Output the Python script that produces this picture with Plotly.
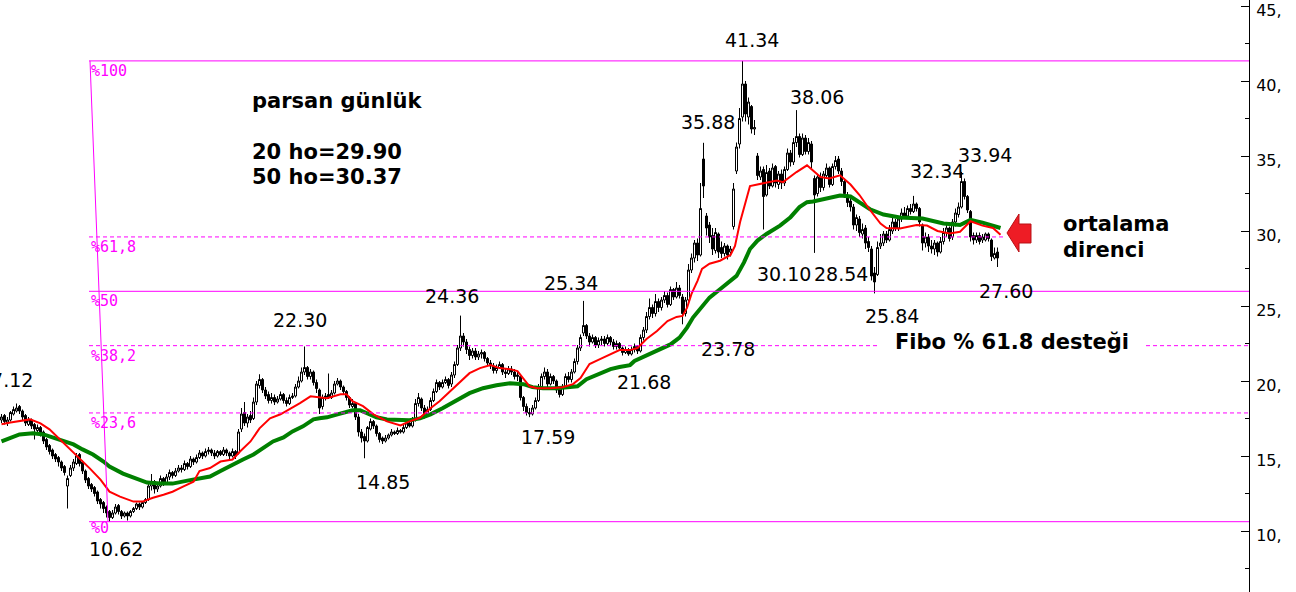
import plotly.graph_objects as go

# ---------------- data ----------------
opens = [
    17.4, 17.7, 17.2, 17.4, 17.8, 18.0, 18.3, 18.0, 17.7, 17.1,
    17.4, 17.1, 16.7, 16.9, 16.6, 16.1, 15.7, 15.4, 15.1, 14.9,
    14.6, 14.3, 13.0, 13.7, 14.2, 14.5, 15.1, 14.6, 14.0, 13.5,
    13.1, 12.9, 12.6, 12.1, 11.9, 11.6, 11.3, 10.9, 11.2, 11.7,
    11.3, 11.0, 11.2, 11.0, 11.3, 11.5, 11.8, 11.6, 11.9, 12.1,
    13.0, 13.3, 12.8, 13.0, 13.5, 13.2, 13.6, 13.9, 13.7, 14.0,
    14.2, 14.1, 14.5, 14.3, 14.8, 14.6, 14.9, 15.2, 15.0, 15.3,
    15.4, 15.2, 15.0, 15.3, 15.1, 15.4, 15.2, 15.0, 15.3, 15.2,
    16.8, 17.9, 17.2, 17.7, 17.5, 18.6, 19.7, 20.1, 19.4, 19.1,
    18.7, 18.9, 18.6, 18.8, 19.1, 18.7, 18.5, 18.9, 19.0, 19.6,
    20.0, 20.6, 20.9, 20.3, 20.6, 19.9, 19.4, 18.3, 18.9, 19.1,
    18.9, 19.2, 19.8, 20.0, 19.6, 19.3, 18.9, 18.3, 18.5, 17.6,
    16.6, 16.3, 16.0, 16.8, 17.3, 17.0, 16.5, 16.2, 16.0, 16.2,
    16.4, 16.6, 16.5, 16.7, 16.6, 16.9, 17.2, 17.0, 17.4, 18.5,
    18.8, 18.2, 17.8, 18.1, 18.7, 19.3, 19.9, 19.6, 19.9, 20.1,
    19.8, 20.4, 21.1, 22.2, 23.0, 22.6, 22.1, 21.7, 22.0, 21.6,
    21.8, 21.9, 21.5, 21.2, 21.0, 20.7, 20.9, 21.1, 20.6, 20.5,
    20.8, 20.6, 20.3, 20.3, 18.9, 18.3, 17.9, 17.8, 18.2, 18.7,
    19.6, 20.3, 20.6, 19.8, 20.3, 20.0, 19.4, 19.1, 19.6, 20.3,
    20.1, 20.6, 21.3, 22.2, 23.2, 23.7, 23.0, 22.6, 22.9, 22.4,
    22.7, 22.8, 22.5, 22.9, 22.6, 22.3, 22.5, 22.2, 21.9, 22.1,
    21.8, 22.1, 22.3, 22.0, 22.9, 23.4, 24.3, 24.9, 24.5, 25.3,
    24.9, 25.4, 25.7, 25.1, 26.1, 25.6, 26.2, 25.6, 24.5, 25.4,
    27.4, 28.2, 29.2, 28.4, 34.8, 31.0, 30.4, 29.7, 28.7, 29.8,
    28.9, 28.5, 29.0, 28.6, 30.3, 34.0, 35.8, 37.6, 39.8, 37.6,
    38.3, 36.8, 35.0, 33.6, 34.1, 32.4, 34.0, 33.0, 34.3, 33.1,
    33.8, 33.2, 34.1, 35.2, 34.6, 35.9, 36.3, 35.1, 36.2, 35.3,
    35.8, 33.5, 32.5, 33.6, 32.9, 33.7, 34.2, 33.1, 34.3, 34.8,
    34.0, 33.3, 32.4, 32.0, 31.6, 30.4, 30.8, 29.8, 30.2, 29.3,
    28.8, 27.2, 27.1, 29.0, 29.2, 29.8, 29.4, 30.0, 30.6, 30.2,
    30.8, 31.2, 31.0, 31.5, 31.3, 31.8, 31.5, 30.4, 29.2, 29.6,
    29.0, 28.8, 29.2, 28.6, 29.3, 29.9, 30.2, 29.6, 30.6, 31.1,
    31.6, 33.3, 32.3, 31.3, 29.7, 29.4, 29.7, 29.4, 29.4, 29.8,
    29.4, 28.2, 28.6,
]
highs = [
    17.8, 17.8, 17.6, 18.0, 18.3, 18.5, 18.4, 18.1, 17.8, 17.6,
    17.5, 17.2, 17.1, 17.0, 16.7, 16.2, 15.8, 15.5, 15.2, 15.0,
    14.7, 14.4, 13.7, 14.4, 14.8, 15.2, 15.2, 14.7, 14.1, 13.6,
    13.2, 13.0, 12.7, 12.2, 12.0, 11.7, 11.4, 11.4, 11.8, 11.8,
    11.4, 11.3, 11.3, 11.4, 11.6, 11.9, 11.9, 12.0, 12.2, 13.3,
    13.8, 13.4, 13.2, 13.7, 13.6, 13.8, 14.1, 14.0, 14.2, 14.4,
    14.4, 14.7, 14.6, 15.0, 14.9, 15.1, 15.4, 15.3, 15.5, 15.6,
    15.5, 15.4, 15.4, 15.4, 15.6, 15.5, 15.3, 15.5, 15.4, 16.8,
    18.2, 18.6, 17.8, 18.0, 18.9, 20.0, 20.45, 20.2, 19.6, 19.3,
    19.2, 19.1, 19.0, 19.3, 19.2, 18.9, 19.1, 19.2, 19.8, 20.3,
    20.9, 22.3, 21.0, 20.8, 20.7, 20.1, 19.5, 19.1, 19.2, 20.5,
    19.4, 20.0, 20.2, 20.1, 19.7, 19.4, 19.0, 18.8, 18.6, 17.8,
    16.8, 16.5, 17.0, 17.5, 17.4, 17.1, 16.6, 16.3, 16.4, 16.5,
    16.8, 16.7, 16.9, 16.8, 17.1, 17.3, 17.3, 17.6, 18.8, 19.2,
    18.9, 18.4, 18.3, 18.9, 19.5, 20.1, 20.0, 20.1, 20.3, 20.2,
    20.6, 21.3, 22.4, 24.36, 23.2, 22.8, 22.3, 22.2, 22.2, 22.0,
    22.1, 22.0, 21.6, 21.4, 21.2, 21.1, 21.3, 21.2, 20.8, 21.0,
    21.0, 20.8, 20.6, 20.4, 19.0, 18.5, 18.2, 18.4, 18.9, 19.8,
    20.5, 20.9, 20.8, 20.5, 20.4, 20.1, 19.6, 19.8, 20.5, 20.6,
    20.8, 21.5, 22.4, 23.1, 25.34, 23.8, 23.2, 23.1, 23.0, 22.9,
    23.0, 23.0, 23.1, 23.0, 22.8, 22.7, 22.6, 22.3, 22.3, 22.2,
    22.3, 22.5, 22.4, 23.1, 23.6, 24.6, 25.5, 25.1, 25.8, 25.5,
    25.6, 26.0, 25.9, 26.3, 26.2, 26.6, 26.4, 25.8, 25.6, 27.8,
    28.5, 29.4, 29.5, 33.2, 35.88, 31.2, 30.6, 30.2, 30.2, 29.9,
    29.3, 29.2, 29.1, 29.0, 33.2, 35.9, 38.2, 41.34, 40.0, 38.9,
    38.4, 37.4, 35.2, 34.3, 34.3, 34.4, 34.2, 34.5, 34.4, 34.0,
    34.1, 34.3, 35.5, 35.4, 36.2, 38.06, 36.5, 36.5, 36.4, 36.2,
    36.0, 33.7, 33.8, 33.9, 34.0, 34.5, 34.3, 34.5, 35.0, 35.0,
    34.2, 33.5, 32.6, 32.2, 31.8, 31.1, 31.0, 30.5, 30.4, 29.6,
    29.0, 27.6, 29.3, 29.8, 30.0, 30.0, 30.4, 30.9, 30.8, 31.0,
    31.5, 31.6, 31.7, 31.8, 32.34, 31.9, 31.6, 30.5, 29.9, 29.8,
    29.4, 29.4, 29.3, 29.6, 30.2, 30.4, 30.3, 30.8, 31.5, 31.9,
    33.94, 33.5, 32.4, 31.4, 29.9, 29.9, 29.9, 29.8, 29.9, 29.9,
    29.5, 28.9, 28.9,
]
lows = [
    17.2, 17.1, 17.0, 17.3, 17.7, 17.9, 17.8, 17.4, 17.0, 17.0,
    16.8, 16.1, 16.6, 16.3, 15.8, 15.4, 15.1, 14.8, 14.6, 14.3,
    14.0, 13.7, 11.5, 13.6, 14.0, 14.4, 14.3, 13.8, 13.2, 12.8,
    12.6, 12.3, 11.8, 11.5, 11.2, 10.9, 10.62, 10.8, 11.1, 11.1,
    10.8, 10.9, 10.7, 10.9, 11.2, 11.4, 11.4, 11.5, 11.8, 12.0,
    12.7, 12.5, 12.6, 12.9, 13.0, 13.1, 13.4, 13.5, 13.6, 13.9,
    13.9, 14.0, 14.1, 14.2, 14.4, 14.5, 14.8, 14.8, 14.9, 15.1,
    15.0, 14.8, 14.9, 15.0, 15.0, 15.0, 14.8, 14.9, 14.8, 15.1,
    16.6, 17.0, 16.9, 17.2, 17.4, 18.4, 19.5, 19.2, 18.8, 18.5,
    18.5, 18.4, 18.5, 18.7, 18.5, 18.3, 18.4, 18.8, 18.9, 19.5,
    19.9, 20.4, 20.1, 20.1, 19.7, 19.2, 17.8, 18.1, 18.7, 18.8,
    18.8, 19.1, 19.7, 19.4, 19.1, 18.7, 18.2, 18.2, 17.4, 16.3,
    15.9, 14.85, 15.9, 16.7, 16.8, 16.3, 15.9, 15.8, 15.9, 16.1,
    16.3, 16.4, 16.4, 16.5, 16.5, 16.8, 16.9, 16.9, 17.3, 18.3,
    18.0, 17.5, 17.7, 18.0, 18.6, 19.2, 19.4, 19.5, 19.8, 19.5,
    19.6, 20.2, 21.0, 22.0, 22.3, 21.8, 21.4, 21.5, 21.4, 21.4,
    21.5, 21.3, 21.0, 20.8, 20.5, 20.5, 20.8, 20.4, 20.2, 20.4,
    20.4, 20.1, 20.0, 18.7, 18.0, 17.7, 17.59, 17.7, 18.1, 18.6,
    19.4, 20.1, 19.6, 19.7, 19.8, 19.2, 18.9, 19.0, 19.5, 19.9,
    19.9, 20.5, 21.1, 22.0, 23.0, 22.8, 22.3, 22.5, 22.2, 22.2,
    22.4, 22.3, 22.4, 22.4, 22.1, 22.1, 22.0, 21.7, 21.8, 21.68,
    21.7, 21.9, 21.8, 21.9, 22.7, 23.2, 24.1, 24.2, 24.3, 24.6,
    24.7, 25.2, 24.9, 25.0, 25.4, 25.5, 25.5, 23.78, 24.3, 25.3,
    27.2, 27.9, 28.0, 28.3, 32.2, 29.7, 29.2, 28.4, 28.5, 28.2,
    28.2, 28.3, 28.1, 28.3, 30.1, 33.8, 35.5, 37.3, 37.3, 37.1,
    36.5, 36.4, 33.4, 33.4, 30.10, 32.3, 32.8, 32.9, 32.9, 32.8,
    32.8, 33.0, 34.0, 34.3, 34.4, 35.6, 34.9, 35.0, 35.1, 35.1,
    34.2, 28.54, 32.3, 32.6, 32.7, 33.6, 32.9, 33.0, 34.1, 33.8,
    33.0, 32.2, 31.6, 31.3, 30.1, 30.0, 29.6, 29.5, 28.8, 28.6,
    26.7, 25.84, 27.0, 28.8, 29.0, 29.2, 29.3, 29.8, 30.0, 30.0,
    30.6, 30.8, 30.8, 31.1, 31.2, 31.3, 30.3, 28.7, 28.9, 28.6,
    28.5, 28.4, 28.3, 28.5, 29.1, 29.6, 29.3, 29.4, 30.3, 30.9,
    31.5, 32.1, 31.2, 29.3, 29.1, 29.2, 29.1, 29.2, 29.3, 29.3,
    28.0, 28.1, 27.60,
]
closes = [
    17.6, 17.3, 17.4, 17.9, 18.1, 18.2, 18.0, 17.6, 17.2, 17.4,
    17.0, 16.8, 16.9, 16.5, 16.0, 15.6, 15.3, 15.0, 14.8, 14.6,
    14.2, 13.9, 13.5, 14.2, 14.6, 15.0, 14.5, 14.0, 13.4, 13.0,
    12.8, 12.5, 12.0, 11.8, 11.5, 11.2, 10.9, 11.2, 11.6, 11.3,
    11.0, 11.2, 11.0, 11.3, 11.5, 11.8, 11.6, 11.9, 12.1, 13.0,
    13.3, 12.8, 13.0, 13.5, 13.2, 13.6, 13.9, 13.7, 14.0, 14.2,
    14.1, 14.5, 14.3, 14.8, 14.6, 14.9, 15.2, 15.0, 15.3, 15.4,
    15.2, 15.0, 15.3, 15.1, 15.4, 15.2, 15.0, 15.3, 15.0, 16.6,
    17.8, 17.2, 17.6, 17.4, 18.6, 19.8, 20.1, 19.4, 19.0, 18.7,
    18.9, 18.6, 18.8, 19.1, 18.7, 18.5, 18.9, 19.0, 19.6, 20.0,
    20.6, 20.9, 20.3, 20.6, 19.9, 19.5, 18.2, 18.9, 19.0, 18.9,
    19.2, 19.8, 20.0, 19.6, 19.3, 18.9, 18.4, 18.5, 17.6, 16.6,
    16.2, 16.0, 16.9, 17.3, 17.0, 16.5, 16.1, 16.0, 16.2, 16.4,
    16.6, 16.5, 16.7, 16.6, 16.9, 17.2, 17.0, 17.4, 18.5, 18.9,
    18.2, 17.8, 18.1, 18.7, 19.3, 19.9, 19.6, 19.9, 20.1, 19.7,
    20.4, 21.1, 22.2, 23.0, 22.6, 22.1, 21.7, 22.0, 21.6, 21.8,
    21.9, 21.5, 21.2, 21.0, 20.7, 20.9, 21.1, 20.6, 20.5, 20.8,
    20.6, 20.3, 20.4, 18.9, 18.3, 17.9, 17.8, 18.2, 18.7, 19.6,
    20.3, 20.6, 19.8, 20.3, 20.0, 19.4, 19.1, 19.6, 20.3, 20.1,
    20.6, 21.3, 22.2, 22.9, 23.7, 23.0, 22.6, 22.9, 22.4, 22.7,
    22.8, 22.5, 22.9, 22.6, 22.3, 22.5, 22.2, 21.9, 22.1, 21.8,
    22.1, 22.3, 22.0, 22.9, 23.4, 24.3, 24.9, 24.5, 25.3, 24.9,
    25.4, 25.7, 25.1, 26.1, 25.6, 26.2, 25.7, 24.5, 25.4, 27.4,
    28.2, 29.2, 28.4, 31.5, 33.0, 30.2, 29.6, 28.8, 29.9, 28.6,
    28.5, 29.0, 28.4, 28.8, 32.8, 35.6, 37.5, 39.8, 37.8, 38.6,
    36.8, 36.9, 33.7, 34.0, 32.3, 33.9, 33.0, 34.2, 33.2, 33.8,
    33.2, 34.1, 35.2, 34.6, 35.9, 36.3, 35.1, 36.2, 35.3, 35.9,
    34.6, 32.4, 33.6, 32.9, 33.8, 34.2, 33.1, 34.3, 34.7, 34.0,
    33.3, 32.5, 31.9, 31.6, 30.4, 30.9, 29.9, 30.1, 29.2, 28.9,
    27.0, 26.6, 28.9, 29.2, 29.8, 29.4, 30.1, 30.6, 30.2, 30.8,
    31.2, 31.0, 31.5, 31.3, 31.8, 31.5, 30.6, 29.2, 29.6, 29.0,
    28.8, 29.2, 28.6, 29.3, 29.9, 30.2, 29.5, 30.6, 31.2, 31.6,
    33.3, 32.3, 31.4, 29.6, 29.4, 29.7, 29.3, 29.6, 29.8, 29.5,
    28.3, 28.5, 28.2,
]
bar_index = list(range(len(closes)))

# 20-period moving average (red), read at bar positions
ma20_idx = [0, 3, 9.5, 13, 16, 19.5, 23, 26, 29.5, 33, 36, 39.5, 44, 47, 50.5, 54, 57,
            60.5, 64, 66, 69.5, 73, 77, 79.5, 83, 86, 89.5, 93, 96, 99.5, 103, 106,
            108.5, 113, 115, 117, 120.5, 124, 128.5, 133, 136, 139.5, 143, 146, 149.5,
            153, 156, 159.5, 163, 166, 169.5, 172, 174, 176, 178.5, 183, 187, 190.5,
            193, 196, 199.5, 203, 206, 209.5, 212, 215, 218.5, 222, 225, 227, 228.5,
            230, 232, 233.5, 236, 239.5, 243, 244.5, 246.2, 249.5, 253, 258.5, 260.5,
            265, 268.5, 270.5, 273, 276, 279.5, 283, 286, 289.5, 293, 295, 299.5, 305,
            308.5, 312, 316, 319.5, 323, 327, 330.5, 333]
ma20_val = [17.11, 17.24, 17.44, 17.18, 16.78, 16.11, 15.44, 14.83, 14.16, 13.43, 12.62,
            12.29, 11.96, 11.96, 12.22, 12.42, 12.62, 12.96, 13.29, 14.0, 14.2, 14.63,
            14.77, 15.30, 15.97, 16.84, 17.51, 17.78, 18.11, 18.52, 18.98, 18.92, 18.85,
            19.12, 19.12, 18.65, 18.32, 17.78, 17.31, 17.04, 17.31, 17.55, 18.18, 18.65,
            19.32, 19.99, 20.52, 20.86, 21.06, 20.86, 20.79, 20.66, 20.19, 19.65, 19.52,
            19.52, 19.59, 19.79, 20.19, 21.13, 21.46, 21.80, 22.06, 22.06, 22.20, 22.80,
            23.33, 24.00, 24.27, 24.34, 24.87, 25.81, 26.68, 27.48, 27.82, 28.02, 28.4,
            29.0, 30.6, 33.0, 33.15, 33.37, 33.26, 33.93, 34.38, 34.04, 33.6, 33.5, 33.71,
            33.1, 32.4, 31.4, 30.5, 30.2, 30.16, 30.4, 30.36, 30.0, 29.83, 29.95, 30.65,
            30.36, 30.2, 29.75]

# 50-period moving average (green)
ma50_idx = [0, 3, 6, 10.5, 14, 17, 20.5, 24, 27, 30.5, 34, 36, 40.5, 45, 48.5, 53, 57,
            62, 66, 69.5, 73, 77, 80.5, 84, 87, 90.5, 94, 97, 100.5, 104, 106, 108.5,
            112, 115, 117, 119.5, 122, 125, 128.5, 133, 136, 139.5, 143, 147, 152, 156,
            160.5, 165, 169.5, 172, 174, 177, 180.5, 185, 189.5, 192, 195, 198.5, 203,
            206, 209.5, 211, 219.5, 223, 226, 228.5, 230.5, 233.5, 236, 239.5, 243, 245,
            247.5, 249.5, 252, 255, 259.5, 263, 266, 268.5, 270.5, 275, 279.5, 283, 286,
            289.5, 294, 299.5, 307, 314, 319.5, 323, 327, 333]
ma50_val = [15.97, 16.17, 16.44, 16.51, 16.44, 16.24, 15.97, 15.77, 15.44, 15.10, 14.63,
            14.30, 13.83, 13.50, 13.23, 13.16, 13.16, 13.36, 13.50, 13.63, 14.0, 14.43,
            14.77, 15.10, 15.50, 15.97, 16.24, 16.64, 16.98, 17.44, 17.51, 17.58, 17.78,
            17.98, 18.05, 18.05, 17.85, 17.58, 17.44, 17.38, 17.38, 17.51, 17.78, 18.18,
            18.78, 19.19, 19.52, 19.72, 19.85, 19.85, 19.79, 19.59, 19.52, 19.52, 19.59,
            19.65, 20.12, 20.39, 20.79, 20.93, 21.06, 21.33, 22.11, 22.44, 22.89, 23.56,
            24.23, 25.01, 25.56, 26.12, 26.68, 27.01, 27.91, 28.8, 29.36, 29.8, 30.36,
            30.92, 31.59, 31.92, 31.97, 32.15, 32.37, 32.3, 31.9, 31.45, 31.1, 30.9,
            30.83, 30.5, 30.4, 30.74, 30.56, 30.2]

fib_high = 41.34
fib_low = 10.62
fib_ratios = [1.0, 0.618, 0.5, 0.382, 0.236, 0.0]
fib_names = ["%100", "%61,8", "%50", "%38,2", "%23,6", "%0"]

y_ticks = [10, 15, 20, 25, 30, 35, 40, 45]

price_labels = ["17.12", "22.30", "24.36", "25.34", "35.88", "41.34", "38.06",
                "32.34", "33.94", "30.10", "28.54", "25.84", "27.60", "23.78",
                "21.68", "17.59", "14.85", "10.62"]

title_lines = ["parsan günlük", "20 ho=29.90", "50 ho=30.37"]
note_lines = ["ortalama", "direnci"]
fibo_note = "Fibo % 61.8 desteği"

# ---------------- layout helpers (pixel placement) ----------------
PLOT_W = 1249
H = 592


def xd(px):
    return px / 3.0 - 0.5


def yd(py):
    return 45.0 - (py - 6.0) / 15.0


def pp(px, py):
    return px / PLOT_W, 1 - py / H


MAG = "#FF00FF"
TXT_FONT = "DejaVu Sans, Verdana, sans-serif"

fig = go.Figure()

fig.add_trace(go.Candlestick(
    x=bar_index, open=opens, high=highs, low=lows, close=closes,
    increasing=dict(line=dict(color="black", width=1), fillcolor="white"),
    decreasing=dict(line=dict(color="black", width=1), fillcolor="black"),
    whiskerwidth=0, showlegend=False, hoverinfo="skip",
))
fig.add_trace(go.Scatter(
    x=ma50_idx, y=ma50_val, mode="lines",
    line=dict(color="#008000", width=4), showlegend=False, hoverinfo="skip",
))
fig.add_trace(go.Scatter(
    x=ma20_idx, y=ma20_val, mode="lines",
    line=dict(color="#FF0000", width=2), showlegend=False, hoverinfo="skip",
))

shapes = []
annotations = []

# Fibonacci levels
for r, name in zip(fib_ratios, fib_names):
    lvl = fib_low + r * (fib_high - fib_low)
    dashed = r in (0.618, 0.382, 0.236)
    x_end = xd(1005) if r == 0.618 else xd(PLOT_W)
    shapes.append(dict(
        type="line", xref="x", yref="y", x0=xd(89), x1=x_end, y0=lvl, y1=lvl,
        line=dict(color=MAG, width=1, dash="4px,3px" if dashed else "solid"),
        layer="above",
    ))
    annotations.append(dict(
        x=xd(89), y=lvl, xref="x", yref="y", text=name, showarrow=False,
        xanchor="left", yanchor="top", yshift=1 if r > 0 else 5,
        font=dict(family="DejaVu Sans Mono, monospace", size=15, color=MAG),
    ))

# fib anchor line (from the high to the low)
shapes.append(dict(
    type="line", xref="x", yref="y", x0=xd(90), y0=fib_high, x1=xd(108), y1=fib_low,
    line=dict(color=MAG, width=1), layer="above",
))

# red arrow
arrow_pts = [(1007, 233), (1019, 214), (1019, 224), (1031, 224), (1031, 243),
             (1019, 243), (1019, 252)]
path = "M " + " L ".join("%.5f,%.5f" % pp(a, b) for a, b in arrow_pts) + " Z"
shapes.append(dict(type="path", xref="paper", yref="paper", path=path,
                   fillcolor="#EE1C25", line=dict(color="#B81015", width=1)))

# price labels: (px x, px y, anchor)
label_pos = {
    "17.12": (35, 380, "right"), "22.30": (300, 320, "center"),
    "24.36": (452, 296, "center"), "25.34": (571, 283, "center"),
    "35.88": (708, 122, "center"), "41.34": (752, 40, "center"),
    "38.06": (817, 97, "center"), "32.34": (937, 171, "center"),
    "33.94": (985, 155, "center"), "30.10": (813, 274, "right"),
    "28.54": (812, 274, "left"), "25.84": (892, 316, "center"),
    "27.60": (1006, 291, "center"), "23.78": (728, 349, "center"),
    "21.68": (644, 382, "center"), "17.59": (548, 437, "center"),
    "14.85": (383, 482, "center"), "10.62": (116, 549, "center"),
}
for t in price_labels:
    px, py, anc = label_pos[t]
    annotations.append(dict(
        x=xd(px), y=yd(py), xref="x", yref="y", text=t, showarrow=False,
        xanchor=anc, yanchor="middle",
        font=dict(family=TXT_FONT, size=19, color="black"),
    ))

# bold texts
for t, py in zip(title_lines, [101, 152, 177]):
    annotations.append(dict(
        x=xd(250), y=yd(py), xref="x", yref="y", text="<b>%s</b>" % t,
        showarrow=False, xanchor="left", yanchor="middle",
        font=dict(family=TXT_FONT, size=21, color="black"),
    ))
for t, py in zip(note_lines, [224, 250]):
    annotations.append(dict(
        x=xd(1061), y=yd(py), xref="x", yref="y", text="<b>%s</b>" % t,
        showarrow=False, xanchor="left", yanchor="middle",
        font=dict(family=TXT_FONT, size=21, color="black"),
    ))
annotations.append(dict(
    x=xd(1012), y=yd(342), xref="x", yref="y", text="<b>%s</b>" % fibo_note,
    showarrow=False, xanchor="center", yanchor="middle", width=266,
    bgcolor="white", borderpad=0,
    font=dict(family=TXT_FONT, size=21, color="black"),
))

fig.update_layout(
    width=1296, height=592,
    margin=dict(l=0, r=1296 - PLOT_W, t=0, b=0),
    paper_bgcolor="white", plot_bgcolor="white",
    showlegend=False, boxgap=0.05,
    shapes=shapes, annotations=annotations,
    xaxis=dict(range=[xd(0), xd(PLOT_W)], visible=False,
               rangeslider=dict(visible=False), showgrid=False),
    yaxis=dict(
        range=[yd(H), yd(0)], side="right", showgrid=False, zeroline=False,
        showline=True, linecolor="black", linewidth=1,
        ticks="inside", ticklen=8, tickwidth=1, tickcolor="black",
        tickmode="array", tickvals=y_ticks, ticktext=["%d," % v for v in y_ticks],
        tickfont=dict(family=TXT_FONT, size=16, color="black"),
        ticklabelshift=4, ticklabelstandoff=3,
        minor=dict(ticks="inside", ticklen=4, tickcolor="black",
                   tickvals=[v - 2.5 for v in y_ticks]),
    ),
)

fig.write_html("out.html", config={"displayModeBar": False},
               post_script="document.body.style.margin='0';")
